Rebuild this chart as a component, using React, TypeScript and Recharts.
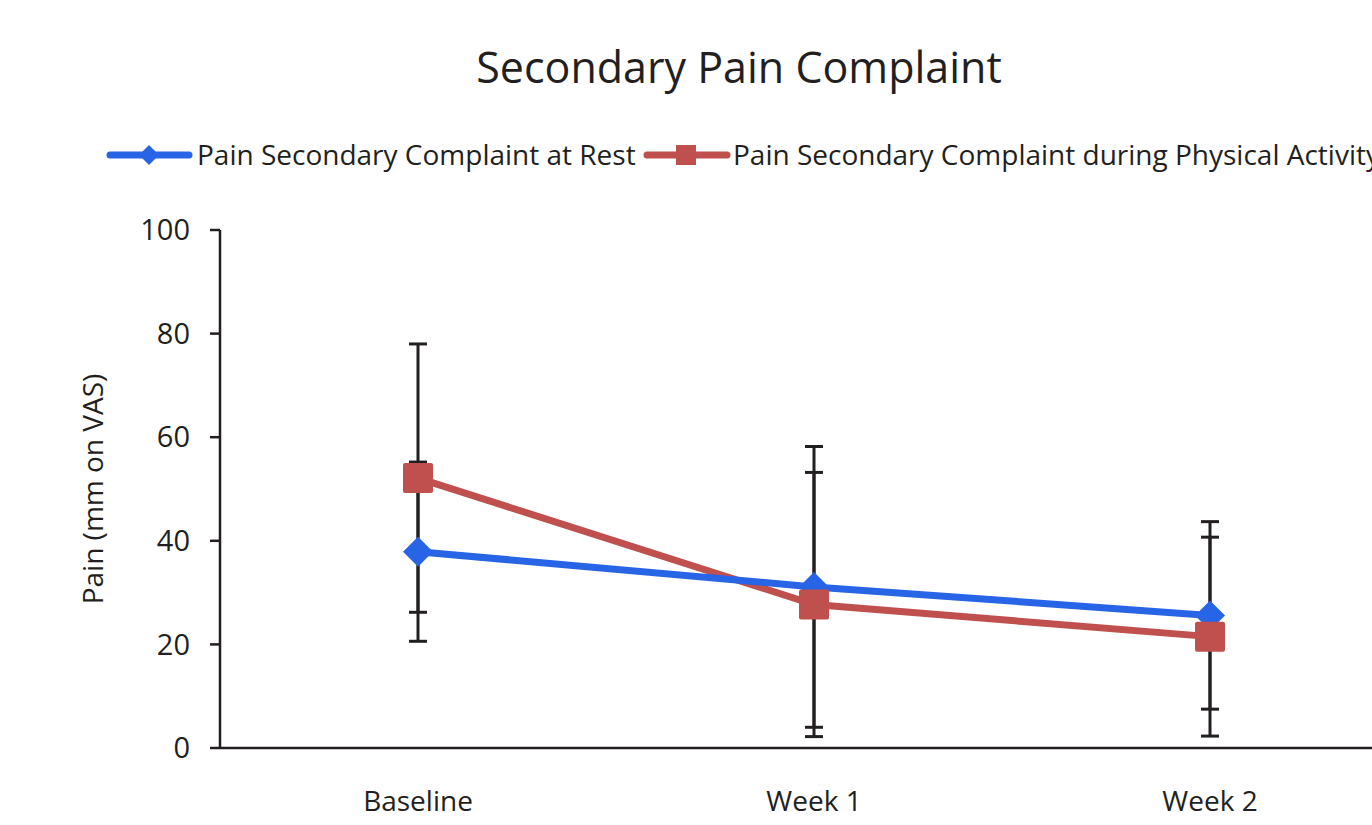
import { LineChart, Line, XAxis, YAxis, ErrorBar } from 'recharts';

const categories = ['Baseline', 'Week 1', 'Week 2'];
const restMean = [37.9, 31.1, 25.6];
const restSd = [17.3, 27.1, 18.1];
const activityMean = [52.1, 27.7, 21.5];
const activitySd = [25.9, 25.5, 19.2];
const yTicks = [0, 20, 40, 60, 80, 100];

const TITLE = 'Secondary Pain Complaint';
const REST_LABEL = 'Pain Secondary Complaint at Rest';
const ACTIVITY_LABEL = 'Pain Secondary Complaint during Physical Activity';

const BLUE = '#2864E6';
const RED = '#C0504D';
const INK = '#231F20';
const FONT = '"Open Sans", "Noto Sans", sans-serif';

const data = categories.map((name, i) => ({
  name,
  rest: restMean[i],
  restSd: restSd[i],
  activity: activityMean[i],
  activitySd: activitySd[i],
}));

function Diamond({ cx, cy }: { cx?: number; cy?: number }) {
  if (cx == null || cy == null) return null;
  const r = 15;
  return (
    <polygon
      points={`${cx},${cy - r} ${cx + r},${cy} ${cx},${cy + r} ${cx - r},${cy}`}
      fill={BLUE}
    />
  );
}

function Square({ cx, cy }: { cx?: number; cy?: number }) {
  if (cx == null || cy == null) return null;
  const s = 30;
  return <rect x={cx - s / 2} y={cy - s / 2} width={s} height={s} rx={2} fill={RED} />;
}

function YLabel({ viewBox }: any) {
  const x = (viewBox?.x ?? 0) + 92;
  const y = (viewBox?.y ?? 0) + (viewBox?.height ?? 0) / 2;
  return (
    <text
      x={x}
      y={y}
      transform={`rotate(-90, ${x}, ${y})`}
      textAnchor="middle"
      dominantBaseline="central"
      fill={INK}
      fontSize={28}
      fontFamily={FONT}
    >
      Pain (mm on VAS)
    </text>
  );
}

export default function App() {
  return (
    <div
      style={{
        position: 'absolute',
        left: 0,
        top: 0,
        width: 1372,
        height: 825,
        overflow: 'hidden',
        background: '#fff',
        fontFamily: FONT,
      }}
    >
      {/* Title + legend (legend runs off the right edge, as in the source figure) */}
      <svg width={1372} height={200} style={{ position: 'absolute', left: 0, top: 0 }}>
        <text x={739} y={83} textAnchor="middle" fontSize={43} fill={INK} fontFamily={FONT}>
          {TITLE}
        </text>
        <line x1={110} y1={155} x2={189} y2={155} stroke={BLUE} strokeWidth={7} strokeLinecap="round" />
        <polygon points="149,145 159,155 149,165 139,155" fill={BLUE} />
        <text x={197} y={165} fontSize={28} fill={INK} fontFamily={FONT}>
          {REST_LABEL}
        </text>
        <line x1={647} y1={155} x2={727} y2={155} stroke={RED} strokeWidth={7} strokeLinecap="round" />
        <rect x={676} y={145} width={20} height={20} fill={RED} />
        <text x={733} y={165} fontSize={28} fill={INK} fontFamily={FONT}>
          {ACTIVITY_LABEL}
        </text>
      </svg>

      <LineChart
        width={1408}
        height={825}
        data={data}
        margin={{ top: 230, right: 0, bottom: 0, left: 0 }}
        style={{ position: 'absolute', left: 0, top: 0 }}
      >
        <XAxis
          dataKey="name"
          height={77}
          padding={{ left: 198, right: 198 }}
          axisLine={{ stroke: INK, strokeWidth: 2.5 }}
          tickLine={false}
          tickSize={0}
          tickMargin={43}
          tick={{ fill: INK, fontSize: 28, fontFamily: FONT }}
        />
        <YAxis
          width={220}
          domain={[0, 100]}
          ticks={yTicks}
          axisLine={{ stroke: INK, strokeWidth: 2.5 }}
          tickLine={{ stroke: INK, strokeWidth: 2.5 }}
          tickSize={10}
          tickMargin={20}
          tick={{ fill: INK, fontSize: 29, fontFamily: FONT }}
          label={<YLabel />}
        />
        <Line
          dataKey="activity"
          stroke={RED}
          strokeWidth={7}
          dot={false}
          activeDot={false}
          isAnimationActive={false}
        >
          <ErrorBar dataKey="activitySd" width={9} stroke={INK} strokeWidth={3} />
        </Line>
        <Line
          dataKey="rest"
          stroke={BLUE}
          strokeWidth={7}
          dot={false}
          activeDot={false}
          isAnimationActive={false}
        >
          <ErrorBar dataKey="restSd" width={9} stroke={INK} strokeWidth={3} />
        </Line>
        <Line
          dataKey="rest"
          stroke="none"
          dot={<Diamond />}
          activeDot={false}
          isAnimationActive={false}
        />
        <Line
          dataKey="activity"
          stroke="none"
          dot={<Square />}
          activeDot={false}
          isAnimationActive={false}
        />
      </LineChart>
    </div>
  );
}
